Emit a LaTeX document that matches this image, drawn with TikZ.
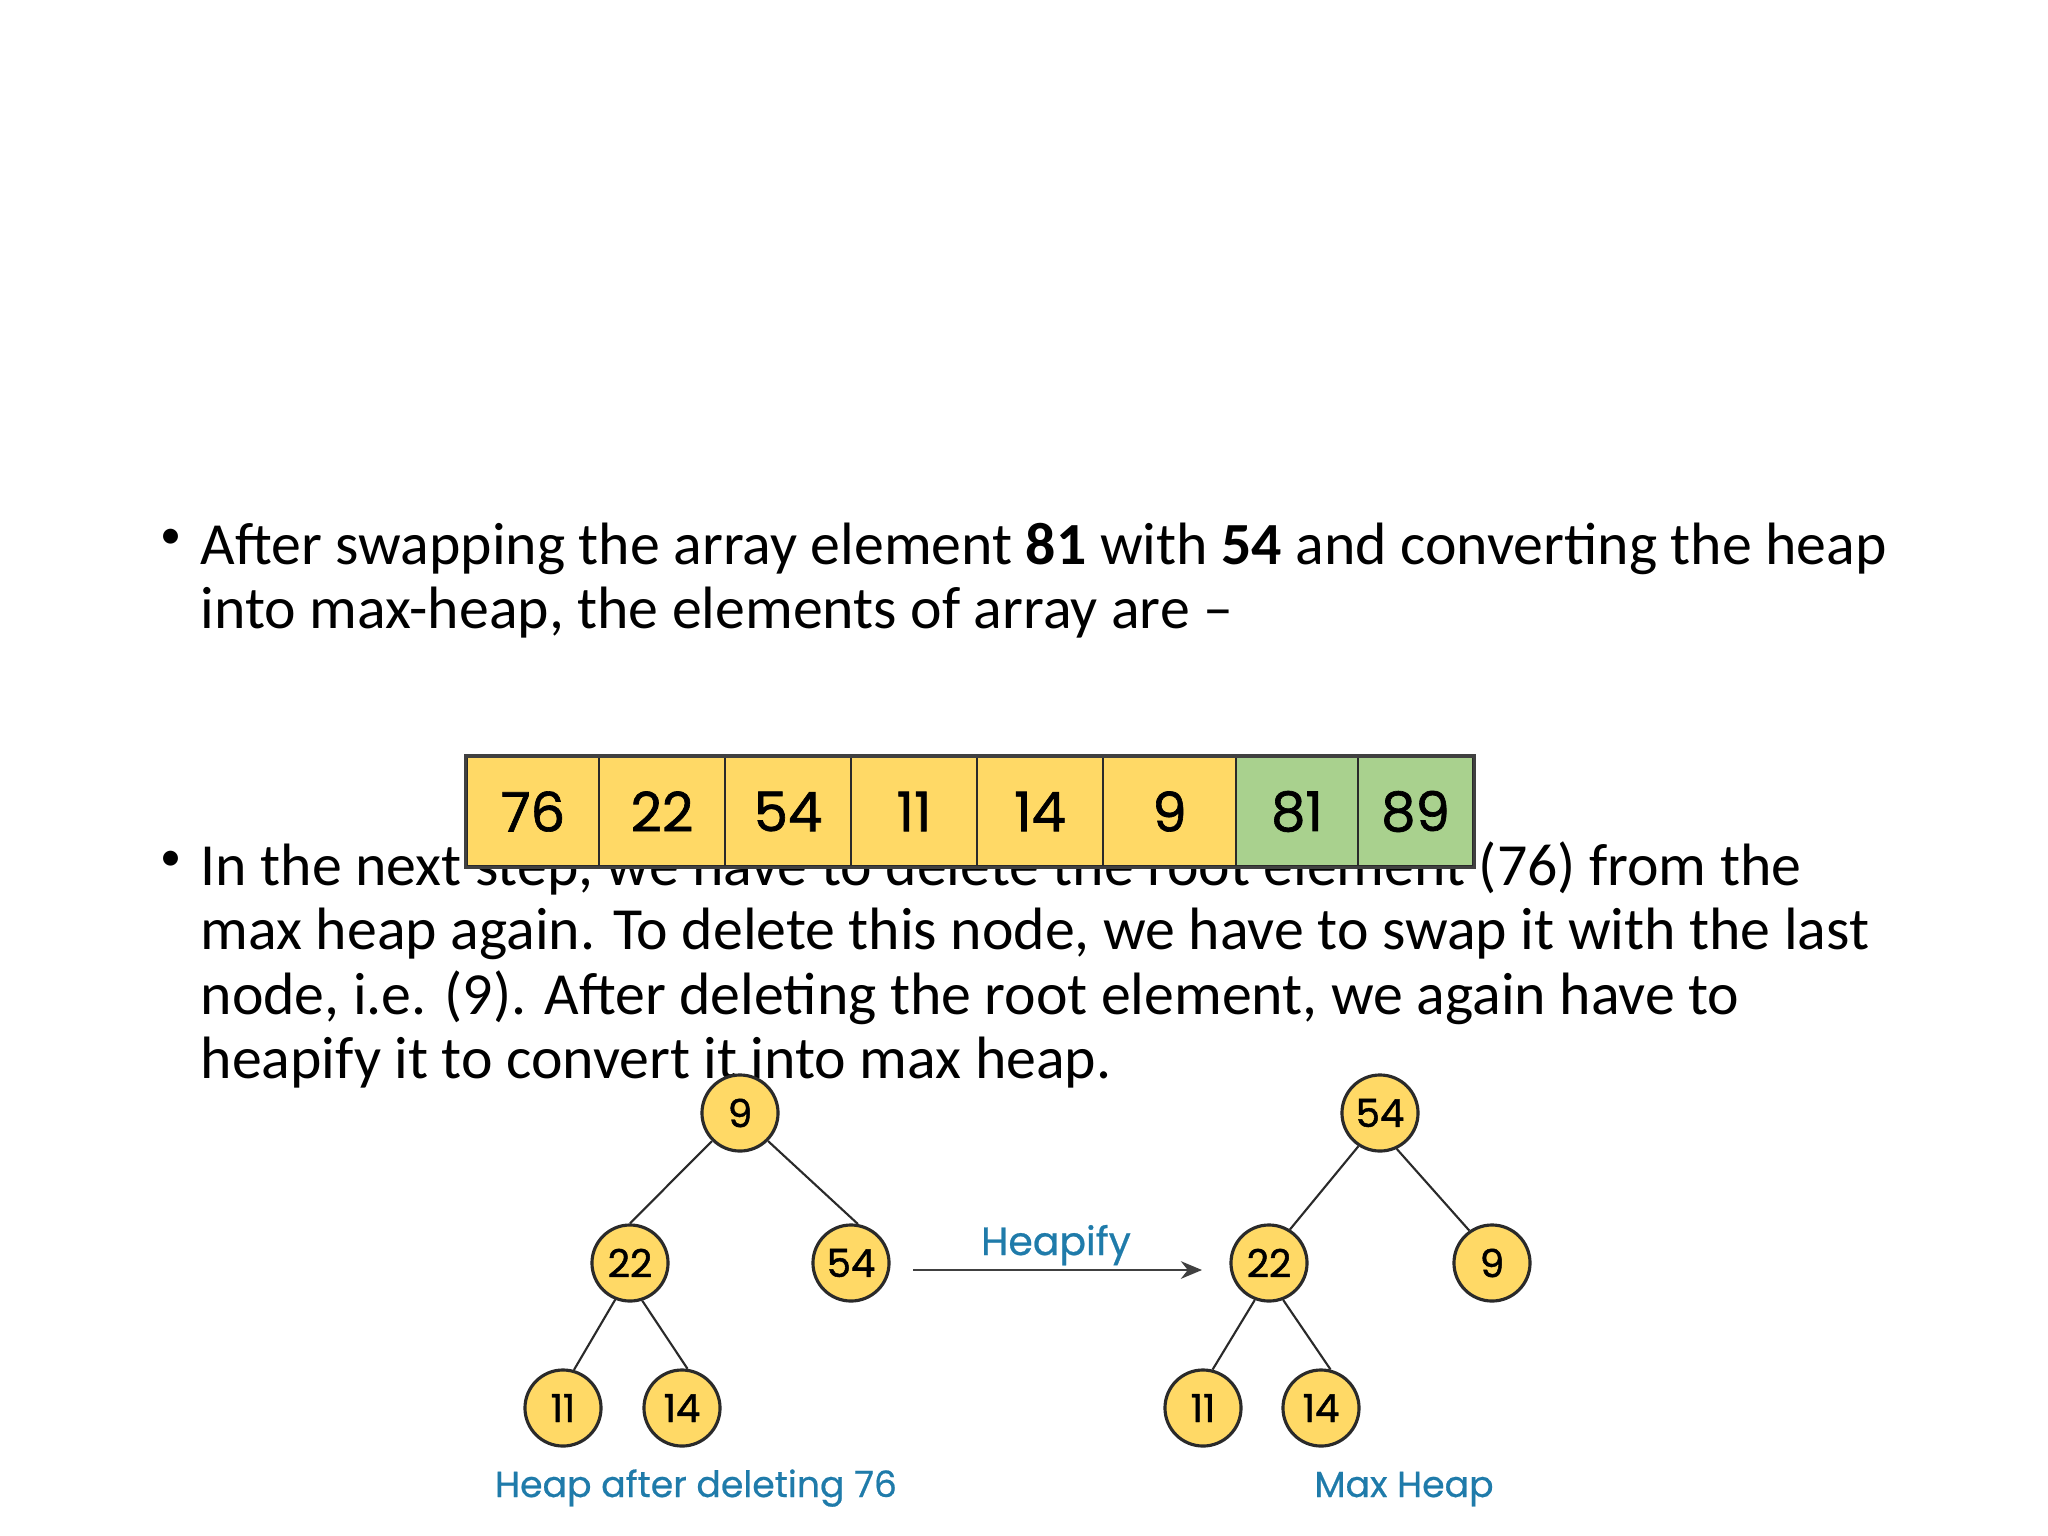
\documentclass[tikz,border=0pt]{standalone}
\usepackage{fontspec}
\setmainfont{Carlito}
\newfontfamily\pop{Poppins}[FakeBold=1.2]
\newfontfamily\popc{Poppins}[FakeBold=0.6]
\usetikzlibrary{arrows.meta}
\definecolor{heapyellow}{HTML}{FFD966}
\definecolor{heapgreen}{HTML}{A9D18E}
\definecolor{heapblue}{HTML}{1F7BAA}
\definecolor{edgegray}{HTML}{2A2A2A}
\begin{document}
\begin{tikzpicture}[x=0.01cm,y=-0.01cm,
  bodytext/.style={anchor=base west, inner sep=0, font=\fontsize{17}{20}\selectfont},
  bulletmark/.style={anchor=center, inner sep=0, font=\fontsize{12}{14}\selectfont},
  cellbox/.style={draw=edgegray, line width=0.7pt, minimum height=1.09cm, inner sep=0, font=\pop\fontsize{15.5}{18}\selectfont},
  heapnode/.style={circle, draw=edgegray, fill=heapyellow, line width=0.9pt, minimum size=0.76cm, inner sep=0, font=\pop\fontsize{11}{13}\selectfont},
  treeedge/.style={draw=edgegray, line width=0.6pt},
  captiontext/.style={text=heapblue, font=\popc\fontsize{10.3}{12}\selectfont, anchor=base, inner sep=0}]
\fill[white] (0,0) rectangle (2048,1536);
\useasboundingbox (0,0) rectangle (2048,1536);

% bullet 1
\node[bulletmark] (b1) at (171,539) {\textbullet};
\node[bodytext] (t11) at (200,564) {After swapping the array element \textbf{81} with \textbf{54} and converting the heap};
\node[bodytext] (t12) at (200,628) {into max-heap, the elements of array are –};

% bullet 2
\node[bulletmark] (b2) at (171,861) {\textbullet};
\node[bodytext] (t21) at (200,885) {In the next step, we have to delete the root element (76) from the};
\node[bodytext] (t22) at (200,949) {max heap again. To delete this node, we have to swap it with the last};
\node[bodytext] (t23) at (200,1014) {node, i.e. (9). After deleting the root element, we again have to};
\node[bodytext] (t24) at (200,1078) {heapify it to convert it into max heap.};

% array
\node[cellbox, fill=heapyellow, minimum width=1.32cm] (c1) at (533,811.5) {76};
\node[cellbox, fill=heapyellow, minimum width=1.26cm] (c2) at (662,811.5) {22};
\node[cellbox, fill=heapyellow, minimum width=1.26cm] (c3) at (788,811.5) {54};
\node[cellbox, fill=heapyellow, minimum width=1.26cm] (c4) at (914,811.5) {11};
\node[cellbox, fill=heapyellow, minimum width=1.26cm] (c5) at (1040,811.5) {14};
\node[cellbox, fill=heapyellow, minimum width=1.33cm] (c6) at (1169.5,811.5) {9};
\node[cellbox, fill=heapgreen, minimum width=1.22cm] (c7) at (1297,811.5) {81};
\node[cellbox, fill=heapgreen, minimum width=1.15cm] (c8) at (1415.5,811.5) {89};
\draw[draw=black!75, line width=1pt] (c1.north west) rectangle (c8.south east);

% left tree
\node[heapnode] (l9) at (740,1113) {9};
\node[heapnode] (l22) at (630,1263) {22};
\node[heapnode] (l54) at (851,1263) {54};
\node[heapnode] (l11) at (563,1408) {11};
\node[heapnode] (l14) at (682,1408) {14};
\draw[treeedge] (l9.225) -- (l22.north);
\draw[treeedge] (l9.-45) -- (l54.80);
\draw[treeedge] (l22.248) -- (l11.74);
\draw[treeedge] (l22.288) -- (l14.82);
\node[captiontext] (lcap) at (696,1497) {Heap after deleting 76};

% arrow
\coordinate (arrS) at (913,1270);
\coordinate (arrE) at (1202,1270);
\draw[draw=black!75, line width=0.65pt, -{Stealth[length=6pt,width=5pt]}] (arrS) -- (arrE);
\node[captiontext, font=\popc\fontsize{11.2}{13}\selectfont] (hcap) at (1056,1255) {Heapify};

% right tree
\node[heapnode] (r54) at (1380,1113) {54};
\node[heapnode] (r22) at (1269,1263) {22};
\node[heapnode] (r9) at (1492,1263) {9};
\node[heapnode] (r11) at (1203,1408) {11};
\node[heapnode] (r14) at (1321,1408) {14};
\draw[treeedge] (r54.237) -- (r22.58);
\draw[treeedge] (r54.295) -- (r9.125);
\draw[treeedge] (r22.249) -- (r11.76);
\draw[treeedge] (r22.291) -- (r14.76);
\node[captiontext] (rcap) at (1404,1497) {Max Heap};
\end{tikzpicture}
\end{document}
